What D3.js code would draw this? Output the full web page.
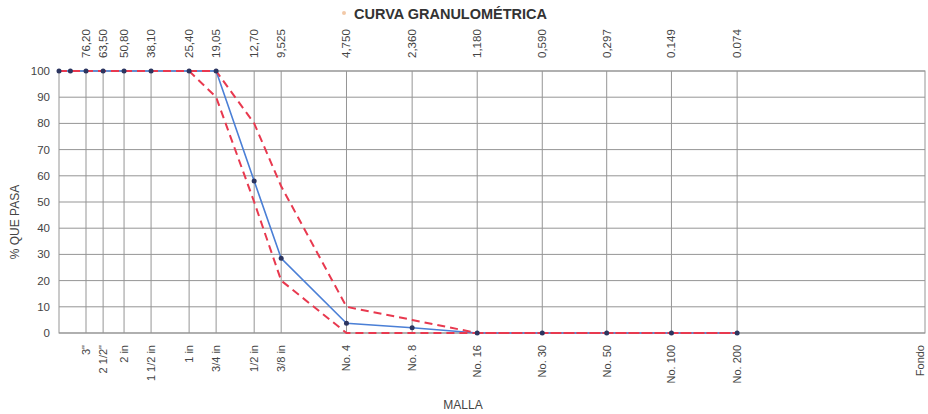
<!DOCTYPE html>
<html><head><meta charset="utf-8">
<script src="https://cdn.jsdelivr.net/npm/d3@7"></script>
<style>body{margin:0;background:#fff}svg{display:block;font-family:"Liberation Sans",Arial,sans-serif}</style>
</head><body><svg id="c" width="928" height="414"></svg>
<script>
const sizes = [101.6, 90, 76.2, 63.5, 50.8, 38.1, 25.4, 19.05, 12.7, 9.525, 4.75, 2.36, 1.18, 0.59, 0.297, 0.149, 0.074];
const sizeLabels = ["", "", "76,20", "63,50", "50,80", "38,10", "25,40", "19,05", "12,70", "9,525", "4,750", "2,360", "1,180", "0,590", "0,297", "0.149", "0.074"];
const sieveLabels = ["", "", "3\"", "2 1/2\"", "2 in", "1 1/2 in", "1 in", "3/4 in", "1/2 in", "3/8 in", "No. 4", "No. 8", "No. 16", "No. 30", "No. 50", "No. 100", "No. 200"];
const panSize = 0.01, panLabel = "Fondo";
const passing = [100, 100, 100, 100, 100, 100, 100, 100, 58, 28.5, 3.7, 2, 0, 0, 0, 0, 0];
const upperLimit = [100, 100, 100, 100, 100, 100, 100, 100, 80, 56, 10, 5, 0, 0, 0, 0, 0];
const lowerLimit = [100, 100, 100, 100, 100, 100, 100, 90, 50, 20, 0, 0, 0, 0, 0, 0, 0];
const yTicks = [0,10,20,30,40,50,60,70,80,90,100];

const svg = d3.select("#c");
const L = 59, R = 925, T = 71, B = 333;
const x = d3.scaleLog().domain([101.6, panSize]).range([L, R]);
const y = d3.scaleLinear().domain([0, 100]).range([B, T]);
const grid = "#959595", txt = "#444";

svg.append("g").selectAll("line").data(yTicks).join("line")
  .attr("x1", L).attr("x2", R).attr("y1", d => y(d)).attr("y2", d => y(d))
  .attr("stroke", grid).attr("stroke-width", 1);
const vIdx = sizes.map((d,i)=>i).filter(i => sieveLabels[i] !== "");
svg.append("g").selectAll("line").data(vIdx).join("line")
  .attr("x1", i => x(sizes[i])).attr("x2", i => x(sizes[i])).attr("y1", T).attr("y2", B)
  .attr("stroke", grid).attr("stroke-width", 1);
svg.append("rect").attr("x", L).attr("y", T).attr("width", R-L).attr("height", B-T)
  .attr("fill", "none").attr("stroke", grid).attr("stroke-width", 1);

svg.append("g").selectAll("text").data(yTicks).join("text")
  .attr("x", L - 9).attr("y", d => y(d) + 4).attr("text-anchor", "end")
  .attr("font-size", 11.5).attr("fill", txt).text(d => d);

svg.append("g").selectAll("text").data(vIdx).join("text")
  .attr("transform", i => `translate(${x(sizes[i]) + 4},${T - 13}) rotate(-90)`)
  .attr("text-anchor", "start").attr("font-size", 11.5).attr("fill", txt)
  .text(i => sizeLabels[i]);

svg.append("g").selectAll("text").data(vIdx).join("text")
  .attr("transform", i => `translate(${x(sizes[i]) + 4},${B + 12}) rotate(-90)`)
  .attr("text-anchor", "end").attr("font-size", 11).attr("fill", txt)
  .text(i => sieveLabels[i]);
svg.append("text")
  .attr("transform", `translate(${x(panSize) - 1},${B + 12}) rotate(-90)`)
  .attr("text-anchor", "end").attr("font-size", 11).attr("fill", txt).text(panLabel);

const line = vals => d3.line().x((d,i) => x(sizes[i])).y(d => y(d))(vals);
svg.append("path").attr("d", line(passing)).attr("fill", "none")
  .attr("stroke", "#4a7fd6").attr("stroke-width", 1.6);
svg.append("path").attr("d", line(upperLimit)).attr("fill", "none")
  .attr("stroke", "#e8394f").attr("stroke-width", 2).attr("stroke-dasharray", "8,5");
svg.append("path").attr("d", line(lowerLimit)).attr("fill", "none")
  .attr("stroke", "#e8394f").attr("stroke-width", 2).attr("stroke-dasharray", "8,5");
svg.append("g").selectAll("circle").data(passing).join("circle")
  .attr("cx", (d,i) => x(sizes[i])).attr("cy", d => y(d)).attr("r", 2.5)
  .attr("fill", "#2c3560");

svg.append("circle").attr("cx", 344).attr("cy", 13).attr("r", 2).attr("fill", "#f2c9a8");
svg.append("text").attr("x", 354).attr("y", 19).attr("font-size", 14.5).attr("font-weight", "bold")
  .attr("fill", "#333").text("CURVA GRANULOMÉTRICA");
svg.append("text").attr("transform", `translate(19,${222}) rotate(-90)`).attr("text-anchor", "middle")
  .attr("font-size", 12).attr("fill", txt).text("% QUE PASA");
svg.append("text").attr("x", 463).attr("y", 409).attr("text-anchor", "middle")
  .attr("font-size", 12).attr("fill", txt).text("MALLA");
</script></body></html>
